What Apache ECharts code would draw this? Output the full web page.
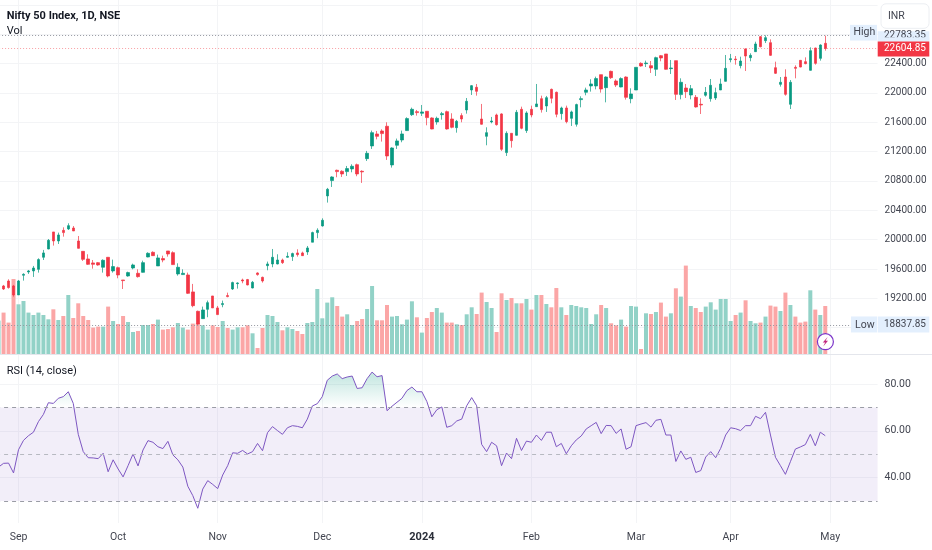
<!DOCTYPE html>
<html><head><meta charset="utf-8">
<style>html,body{margin:0;padding:0;background:#fff;width:932px;height:550px;overflow:hidden}#c{position:absolute;left:-10px;top:0;width:942px;height:550px}</style>
<script src="https://cdn.jsdelivr.net/npm/echarts@6/dist/echarts.min.js"></script>
</head><body><div id="c"></div>
<script>
const opens=[null,19369,19437,19369,19247,19515,19560,19574,19596,19760,19873,20105,19982,20127,20146,20159,19982,19841,19737,19683,19687,19624,19760,19574,19619,19451,19505,19614,19542,19555,19764,19828,19642,19742,19846,19823,19533,19524,19519,19288,19024,18924,19051,19233,19070,19115,19238,19328,19401,19451,19456,19342,19546,19487,19646,19669,19669,19723,19760,19769,19819,19819,19833,19965,20096,20187,20596,20805,20945,20932,20927,20964,21022,20932,21104,21277,21440,21481,21545,21018,21286,21358,21486,21703,21744,21722,21749,21658,21604,21703,21744,21644,21526,21690,21767,22039,22076,21644,21408,21604,21699,21713,21186,21449,21422,21776,21486,21776,21812,21921,21821,22048,22008,21717,21794,21653,21572,21908,22008,22094,22094,22248,22071,22293,22162,22080,22216,21921,22039,22402,22398,22371,22321,22507,22530,22330,22439,21976,22066,21971,21939,21844,21967,21921,21930,22039,22157,22452,22461,22371,22598,22480,22561,22766,22711,22684,22343,22116,22216,21844,22348,22443,22425,22307,22611,22470,22675];
const closes=[null,19328,19347,19247,19437,19528,19574,19614,19728,19819,19991,19982,20064,20096,20191,20118,19882,19732,19664,19664,19655,19719,19505,19633,19519,19442,19551,19655,19496,19687,19814,19782,19751,19723,19805,19660,19624,19542,19269,19101,18852,19042,19142,19070,18979,19129,19224,19415,19410,19437,19383,19419,19524,19437,19669,19760,19723,19687,19773,19810,19796,19782,19887,20096,20128,20264,20686,20854,20927,20895,20968,21000,20895,20923,21177,21458,21408,21445,21140,21249,21345,21440,21649,21776,21731,21740,21663,21508,21653,21717,21508,21531,21613,21644,21885,22098,22021,21572,21458,21617,21567,21231,21449,21349,21735,21517,21726,21699,21849,21772,21935,21926,21708,21794,21608,21740,21840,21921,22039,22121,22194,22053,22216,22207,22107,22194,21939,21985,22348,22366,22407,22339,22480,22475,22321,22339,21980,22144,22016,22057,21808,21835,22007,22103,22003,22121,22334,22466,22452,22434,22502,22511,22666,22629,22752,22511,22266,22144,21980,22144,22334,22352,22398,22575,22402,22652,22604.85];
const highs=[null,19383,19460,19383,19451,19542,19587,19642,19746,19860,20009,20105,20096,20168,20223,20186,20050,19841,19801,19723,19696,19732,19760,19728,19633,19451,19564,19673,19596,19714,19828,19841,19796,19782,19846,19841,19678,19596,19551,19397,19033,19088,19170,19233,19097,19170,19278,19428,19419,19469,19465,19437,19555,19496,19701,19873,19801,19742,19828,19823,19869,19837,19914,20109,20155,20291,20705,20864,20954,20945,21004,21027,21036,20945,21209,21486,21481,21504,21599,21259,21377,21486,21667,21799,21767,21835,21749,21667,21676,21740,21758,21722,21631,21722,21930,22107,22121,21849,21531,21672,21717,21722,21476,21449,21767,21812,21749,21826,22121,21962,21958,22058,22017,21812,21826,21758,21853,21953,22071,22185,22221,22248,22225,22303,22184,22212,22225,22062,22348,22416,22439,22434,22493,22516,22530,22448,22439,22198,22121,22107,21971,21926,22080,22189,22071,22194,22516,22530,22502,22493,22607,22539,22697,22775,22783.35,22729,22425,22216,22321,22175,22375,22448,22484,22620,22616,22661,22779];
const lows=[null,19315,19333,19224,19247,19442,19533,19492,19551,19723,19869,19919,19941,20041,20132,20118,19878,19710,19655,19605,19646,19551,19487,19551,19474,19328,19496,19596,19483,19551,19760,19778,19642,19692,19769,19655,19510,19519,19260,19079,18837.85,18920,18943,19070,18974,19079,19215,19315,19333,19406,19378,19337,19510,19415,19583,19624,19664,19669,19755,19710,19769,19778,19792,19965,20019,20178,20505,20718,20850,20854,20868,20918,20864,20773,21072,21236,21367,21336,21086,20982,21236,21327,21481,21685,21690,21685,21558,21504,21567,21635,21499,21517,21458,21599,21717,21971,21962,21567,21286,21585,21554,21209,21140,21254,21417,21504,21454,21667,21808,21731,21740,21858,21667,21635,21585,21549,21540,21803,21967,22017,22048,22003,21871,22189,22080,22076,21908,21858,22039,22357,22352,22271,22230,22430,22316,22257,21903,21912,21930,21912,21799,21712,21948,21880,21903,22039,22153,22416,22384,22334,22298,22430,22557,22620,22679,22502,22257,22085,21962,21780,22198,22348,22389,22303,22384,22439,22575];
const volumes=[337,417,317,753,500,533,417,393,417,393,350,450,343,383,593,363,510,383,343,267,277,277,477,333,303,383,323,223,233,293,293,303,347,247,253,270,313,267,247,307,310,290,247,290,273,333,263,247,270,270,290,210,63,263,393,383,323,240,270,253,233,203,313,323,653,360,517,570,483,377,400,293,333,353,453,683,340,340,493,377,383,300,347,530,370,217,363,423,463,417,317,317,300,293,400,470,403,617,523,463,223,610,543,563,510,510,553,447,593,593,503,470,663,470,393,493,483,470,463,303,400,493,463,310,290,347,277,483,477,53,410,403,423,517,377,410,660,577,887,483,463,423,477,520,447,553,553,333,393,417,540,333,310,317,377,487,477,433,617,493,377,317,327,640,447,393,483];
const rsi=[44.5,46.1,46.2,42.0,51.9,55.9,57.9,59.4,63.9,67.0,72.0,71.7,73.9,74.6,76.7,71.7,58.5,51.1,48.5,48.4,48.1,50.4,42.5,47.6,43.7,40.3,45.1,50.1,45.0,51.8,55.8,55.1,53.2,52.4,55.5,49.7,47.6,44.5,36.3,32.3,26.9,35.1,38.7,37.1,35.3,41.1,45.1,50.6,50.4,51.6,50.1,51.1,54.6,51.5,59.2,61.8,60.1,58.5,61.3,62.2,61.9,61.3,65.0,70.6,71.6,74.6,81.6,83.4,84.3,82.3,83.0,83.4,78.1,78.4,82.3,85.1,83.1,83.6,68.6,70.5,72.2,73.9,77.2,78.7,76.7,76.7,72.5,66.0,69.0,70.2,61.5,62.2,64.2,65.0,70.7,74.2,70.7,54.2,51.1,55.1,53.6,45.1,50.5,48.1,56.8,51.6,55.6,55.1,58.2,55.9,59.4,59.4,53.2,54.6,50.2,53.6,56.1,57.8,60.8,62.2,63.6,58.8,62.3,62.2,58.9,60.8,52.1,53.2,62.2,62.9,63.5,61.6,64.5,64.9,58.2,58.2,46.9,51.4,47.8,48.7,42.2,43.0,48.8,51.1,48.5,52.5,58.2,61.3,60.9,60.1,62.2,62.2,66.2,65.2,67.9,58.2,48.7,45.1,41.4,46.8,52.2,53.1,54.1,58.5,53.6,59.4,57.9];
const monthIndex=[4,24,44,65,85,107,128,147,167];
const monthLabels=['Sep','Oct','Nov','Dec','2024','Feb','Mar','Apr','May'];
const rsiTicks=[40,60,80];
const rsiLevels=[70,50,30];
const highPrice=22783.35,lastPrice=22604.85,lowPrice=18837.85;
const hiddenPriceLabels=[23200,22800,18800,18400];

const UP='#089981',DOWN='#f23645',VOLUP='#92d2c7',VOLDOWN='#fba6a6';
const TXT='#434651',GRID='#f3f4f6',FONT='Roboto';
const bandCount=177;
const categories=Array.from({length:bandCount},(_,i)=>{const k=monthIndex.indexOf(i);return k>=0?monthLabels[k]:String(i)});
const isTick=i=>monthIndex.indexOf(i)>=0;
const candles=opens.map((o,i)=>o==null?'-':[o,closes[i],lows[i],highs[i]]);
const volData=volumes.map((v,i)=>({value:v,itemStyle:{color:(opens[i]==null||closes[i]>=opens[i])?VOLUP:VOLDOWN}}));
const PAD=10;
const gridL=PAD-3.91,gridW=881.46;
const xBase=(idx,extra)=>Object.assign({type:'category',data:categories,gridIndex:idx,
  axisLine:{show:false},axisTick:{show:false},axisLabel:{show:false},
  splitLine:{show:true,alignWithLabel:true,interval:i=>isTick(i),lineStyle:{color:GRID,width:1}}},extra||{});

const chart=echarts.init(document.getElementById('c'),null,{renderer:'canvas'});
chart.setOption({
  animation:false,
  backgroundColor:'#ffffff',
  grid:[
    {left:gridL,width:gridW,top:4.78,height:352.32,containLabel:false},
    {left:gridL,width:gridW,top:0,height:354.3},
    {left:gridL,width:gridW,top:355,height:168}
  ],
  xAxis:[
    xBase(0,{splitLine:{show:false}}),
    xBase(1),
    xBase(2,{axisLabel:{show:true,interval:i=>isTick(i),color:TXT,fontFamily:FONT,fontSize:10.5,margin:9,
      formatter:v=>v==='2024'?'{b|2024}':v,rich:{b:{fontWeight:'bold',fontFamily:FONT,fontSize:11,color:'#2a2e39'}}}})
  ],
  yAxis:[
    {type:'value',gridIndex:0,position:'right',min:18400,max:23200,interval:400,
      axisLine:{show:false},axisTick:{show:false},
      axisLabel:{color:TXT,fontFamily:FONT,fontSize:10,margin:7,align:'left',padding:[2,0,0,0],
        formatter:v=>hiddenPriceLabels.indexOf(v)>=0?'':v.toFixed(2)},
      splitLine:{show:true,showMinLine:false,lineStyle:{color:GRID}}},
    {type:'value',gridIndex:1,min:0,max:3543,show:false,splitLine:{show:false}},
    {type:'value',gridIndex:2,position:'right',min:20.6,max:92.4,
      axisLine:{show:false},axisTick:{show:false,customValues:rsiTicks},
      axisLabel:{color:TXT,fontFamily:FONT,fontSize:10.5,margin:7,align:'left',padding:[2,0,0,0],customValues:rsiTicks,formatter:v=>v.toFixed(2)},
      splitLine:{show:true,lineStyle:{color:GRID}}}
  ],
  series:[
    {type:'bar',name:'Vol',xAxisIndex:1,yAxisIndex:1,data:volData,barWidth:4,z:1,silent:true},
    {type:'candlestick',name:'Nifty 50',xAxisIndex:0,yAxisIndex:0,data:candles,barWidth:3,z:3,silent:true,
      itemStyle:{color:UP,color0:DOWN,borderColor:UP,borderColor0:DOWN,borderWidth:0.7},
      markLine:{silent:true,symbol:'none',label:{show:false},z:2,data:[
        {yAxis:highPrice,lineStyle:{color:'#9598a1',type:[1,2],width:1}},
        {yAxis:lastPrice,lineStyle:{color:'#f9a0a4',type:[1,2],width:1}},
        {yAxis:lowPrice,lineStyle:{color:'#9598a1',type:[1,2],width:1}}
      ]}},
    {type:'line',name:'RSI',xAxisIndex:2,yAxisIndex:2,data:rsi,symbol:'none',smooth:false,z:4,silent:true,
      lineStyle:{color:'#7e57c2',width:1},
      areaStyle:{origin:70,color:new echarts.graphic.LinearGradient(0,366,0,407.3,[
        {offset:0,color:'rgba(8,153,129,0.42)'},{offset:1,color:'rgba(8,153,129,0)'}],true)},
      markArea:{silent:true,itemStyle:{color:'rgba(126,87,194,0.1)'},data:[[{yAxis:rsiLevels[0]},{yAxis:rsiLevels[2]}]]},
      markLine:{silent:true,symbol:'none',label:{show:false},data:[
        {yAxis:rsiLevels[0],lineStyle:{color:'#9a9ca5',type:[4,4],width:1}},
        {yAxis:rsiLevels[1],lineStyle:{color:'#b7b9c1',type:[4,4],width:1}},
        {yAxis:rsiLevels[2],lineStyle:{color:'#9a9ca5',type:[4,4],width:1}}
      ]}}
  ]
});

const py=v=>chart.convertToPixel({yAxisIndex:0},v);
const tagX=877.7,tagW=51.6;
const txt=(x,y,t,o)=>({type:'text',x,y,silent:true,z:o&&o.z||50,style:Object.assign({text:t,fill:TXT,fontFamily:FONT,fontSize:11,textVerticalAlign:'middle',textAlign:'left'},o||{})});
const rect=(x,y,w,h,fill,extra)=>({type:'rect',silent:true,z:(extra&&extra.z)||40,shape:{x,y,width:w,height:h,r:(extra&&extra.r)||0},style:{fill,stroke:extra&&extra.stroke,lineWidth:extra&&extra.lineWidth}});
const yH=py(highPrice),yC=py(lastPrice),yL=py(lowPrice);
chart.setOption({graphic:{elements:[{type:'group',x:PAD,y:0,silent:true,children:[
  {type:'line',silent:true,z:30,shape:{x1:0,y1:354.5,x2:932,y2:354.5},style:{stroke:'#e4e6ec',lineWidth:1}},
  rect(tagX,yH-4,tagW,10,'#e3effd'),
  txt(884,yH,highPrice.toFixed(2),{fontSize:10,z:41}),
  rect(tagX,yH+1.8,tagW,yC-7-yH-1.8,'#e3effd',{z:42}),
  rect(850,yH-10.5,27,15.7,'#e3effd'),
  txt(853.5,yH-2.8,'High',{fontSize:10.5,z:41}),
  rect(tagX,yC-7,tagW,15,'#f23645',{z:43}),
  txt(884,yC+0.4,lastPrice.toFixed(2),{fill:'#ffffff',fontSize:10,z:44}),
  rect(851,yL-8.5,26,16,'#e3effd'),
  txt(855,yL,'Low',{fontSize:10.5,z:41}),
  rect(tagX,yL-8.5,tagW,16,'#e3effd'),
  txt(884,yL,lowPrice.toFixed(2),{fontSize:10,z:41}),
  rect(881,3.8,48,24.5,'#ffffff',{r:5,stroke:'#eceef2',lineWidth:1}),
  txt(888,16,'INR',{fontSize:10.5,z:41}),
  txt(6.7,15.8,'Nifty 50 Index, 1D, NSE',{fill:'#131722',fontWeight:'bold',fontSize:11}),
  txt(6.7,31.6,'Vol',{fill:'#131722',fontSize:11}),
  txt(6.7,371,'RSI (14, close)',{fill:'#131722',fontSize:11}),
  {type:'circle',silent:true,z:60,shape:{cx:825.4,cy:341.7,r:8},style:{fill:'#ffffff',stroke:'#7b35c9',lineWidth:1.2}},
  {type:'polygon',silent:true,z:61,shape:{points:[[827.6,337],[822.8,342.4],[825.2,342.4],[823.2,346.4],[828,340.8],[825.6,340.8]]},style:{fill:'#c2287f'}}
]}]}});
</script></body></html>
